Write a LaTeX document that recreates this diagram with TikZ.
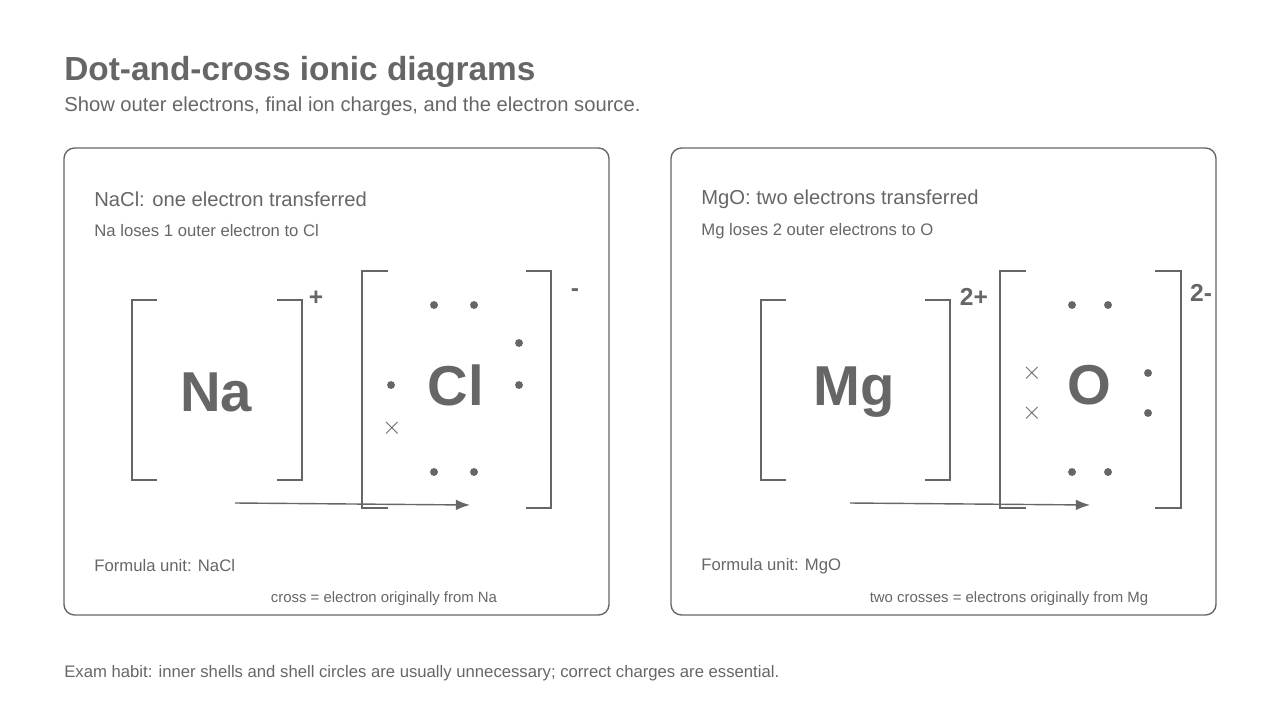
\documentclass[tikz,border=0pt]{standalone}
\usepackage{fontspec}
\setmainfont{Liberation Sans}
\usetikzlibrary{arrows.meta}
\definecolor{ink}{HTML}{666666}

\tikzset{
  txt/.style={anchor=west, inner sep=0pt, text=ink},
  panel/.style={draw=ink, rounded corners=6pt, line width=0.8pt},
  brk/.style={draw=ink, line width=1pt},
  atom/.style={inner sep=0pt, text=ink, font=\fontsize{32}{32}\selectfont\bfseries},
  chg/.style={inner sep=0pt, text=ink, font=\fontsize{14}{14}\selectfont\bfseries},
  dot/.style={circle, fill=ink, inner sep=0pt, minimum size=4.5pt},
  crs/.style={inner sep=0pt, text=ink, font=\fontsize{14}{14}\selectfont},
  xfer/.style={draw=ink, line width=0.8pt, -{Latex[length=8pt,width=6pt]}}
}

\begin{document}
\begin{tikzpicture}[x=0.02cm, y=-0.02cm]
    \useasboundingbox (0,0) rectangle (1280,720);

    % Title
    \node[txt, font=\fontsize{19}{19}\selectfont\bfseries] (title) at (64,72) {Dot-and-cross ionic diagrams};
    \node[txt, font=\fontsize{11.5}{12}\selectfont] (subtitle) at (64,106) {Show outer electrons, final ion charges, and the electron source.};

    % Panels
    \draw[panel] (64,148) rectangle (609,615);
    \draw[panel] (671,148) rectangle (1216,615);

    % NaCl panel
    \node[txt, font=\fontsize{11.5}{12}\selectfont] (naclhead) at (94,199) {NaCl: one electron transferred};
    \node[txt, font=\fontsize{9.5}{10}\selectfont] (naclsub) at (94,231) {Na loses 1 outer electron to Cl};
    \draw[brk] (157,300) -- (132,300) -- (132,480) -- (157,480);
    \draw[brk] (277,300) -- (302,300) -- (302,480) -- (277,480);
    \node[chg] (naplus) at (316,298) {+};
    \node[atom] (Na) at (216,392) {Na};
    \draw[brk] (388,271) -- (362,271) -- (362,508) -- (388,508);
    \draw[brk] (526,271) -- (551,271) -- (551,508) -- (526,508);
    \node[chg] (clminus) at (575,293) {-};
    \node[atom] (Cl) at (456,385) {Cl};
    \foreach \x/\y in {434/305, 474/305, 519/343, 519/385, 391/385, 434/472, 474/472}
        \node[dot] at (\x,\y) {};
    \node[crs] (clx) at (392,428) {$\times$};
    \coordinate (naout) at (235,503);
    \coordinate (clin) at (470,505);
    \draw[xfer] (naout) -- (clin);
    \node[txt, font=\fontsize{9.5}{10}\selectfont] (naclformula) at (94,566) {Formula unit: NaCl};
    \node[inner sep=0pt, text=ink, font=\fontsize{8.5}{9}\selectfont] (naclkey) at (384,599) {cross = electron originally from Na};

    % MgO panel
    \node[txt, font=\fontsize{11.5}{12}\selectfont] (mgohead) at (701,199) {MgO: two electrons transferred};
    \node[txt, font=\fontsize{9.5}{10}\selectfont] (mgosub) at (701,231) {Mg loses 2 outer electrons to O};
    \draw[brk] (786,300) -- (761,300) -- (761,480) -- (786,480);
    \draw[brk] (925,300) -- (950,300) -- (950,480) -- (925,480);
    \node[chg] (mgplus) at (974,297) {2+};
    \node[atom] (Mg) at (854,392) {Mg};
    \draw[brk] (1026,271) -- (1000,271) -- (1000,508) -- (1026,508);
    \draw[brk] (1155,271) -- (1181,271) -- (1181,508) -- (1155,508);
    \node[chg] (ominus) at (1201,293) {2-};
    \node[atom] (O) at (1089,385) {O};
    \foreach \x/\y in {1072/305, 1108/305, 1148/373, 1148/413, 1072/472, 1108/472}
        \node[dot] at (\x,\y) {};
    \node[crs] (ox1) at (1032,373) {$\times$};
    \node[crs] (ox2) at (1032,413) {$\times$};
    \coordinate (mgout) at (850,503);
    \coordinate (oin) at (1090,505);
    \draw[xfer] (mgout) -- (oin);
    \node[txt, font=\fontsize{9.5}{10}\selectfont] (mgoformula) at (701,566) {Formula unit: MgO};
    \node[inner sep=0pt, text=ink, font=\fontsize{8.5}{9}\selectfont] (mgokey) at (1009,599) {two crosses = electrons originally from Mg};

    % Footer
    \node[txt, font=\fontsize{9.5}{10}\selectfont] (habit) at (64,673) {Exam habit: inner shells and shell circles are usually unnecessary; correct charges are essential.};
\end{tikzpicture}
\end{document}
